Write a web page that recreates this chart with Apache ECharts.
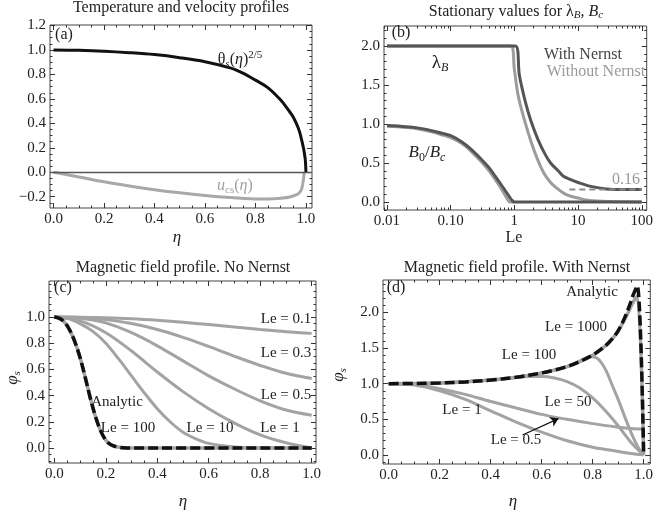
<!DOCTYPE html>
<html>
<head>
<meta charset="utf-8">
<script src="https://cdn.jsdelivr.net/npm/echarts@6/dist/echarts.min.js"></script>
<style>
  html, body { margin: 0; padding: 0; background: #fff; }
  #main { width: 656px; height: 515px; }
</style>
</head>
<body>
<div id="main"></div>
<script>
// ---- (a) temperature / velocity profiles ----
const thetaEta = [0, 0.1, 0.2, 0.3, 0.4, 0.5, 0.6, 0.7, 0.75, 0.8, 0.85, 0.9, 0.93, 0.95, 0.97, 0.98, 0.99, 0.995, 0.998, 1.0];
const thetaVal = [1.0, 0.997, 0.99, 0.978, 0.962, 0.937, 0.904, 0.853, 0.81, 0.753, 0.69, 0.59, 0.51, 0.45, 0.36, 0.29, 0.2, 0.14, 0.09, 0.0];
const uEta = [0, 0.1, 0.2, 0.3, 0.4, 0.5, 0.6, 0.7, 0.8, 0.85, 0.9, 0.94, 0.97, 0.98, 0.985, 0.99, 0.993];
const uVal = [0, -0.038, -0.078, -0.112, -0.142, -0.168, -0.19, -0.207, -0.218, -0.219, -0.213, -0.2, -0.175, -0.15, -0.12, -0.06, 0];

// ---- (b) stationary values vs Le ----
const lamLeN = [0.01, 0.1, 1.04, 1.2, 1.46, 1.8, 2.35, 3, 3.7, 5, 5.9, 7.5, 10, 15.8, 28, 50, 100];
const lamN = [2, 2, 2, 1.62, 1.31, 1.05, 0.8, 0.62, 0.5, 0.39, 0.33, 0.29, 0.25, 0.2, 0.167, 0.16, 0.16];
const lamLe0 = [0.01, 0.1, 0.88, 1.0, 1.15, 1.5, 1.85, 2.3, 2.9, 3.7, 4.8, 6, 7.7, 10, 12.5, 20, 30, 100];
const lam0 = [2, 2, 2, 1.7, 1.36, 1.0, 0.76, 0.55, 0.37, 0.25, 0.167, 0.11, 0.073, 0.05, 0.03, 0.012, 0.005, 0];
const bLeN = [0.01, 0.02, 0.03, 0.05, 0.07, 0.1, 0.15, 0.2, 0.3, 0.4, 0.5, 0.6, 0.7, 0.8, 0.9, 1.0, 100];
const bN = [0.98, 0.965, 0.95, 0.915, 0.885, 0.85, 0.77, 0.69, 0.55, 0.44, 0.33, 0.24, 0.16, 0.09, 0.03, 0.0, 0.0];
const bLe0 = [0.01, 0.02, 0.03, 0.05, 0.07, 0.1, 0.15, 0.2, 0.3, 0.4, 0.5, 0.6, 0.7, 0.8, 0.85, 1.0];
const b0 = [0.97, 0.955, 0.94, 0.9, 0.865, 0.825, 0.75, 0.665, 0.52, 0.4, 0.29, 0.19, 0.1, 0.02, 0, 0];
const asymLe = [7.3, 100];
const asymVal = [0.16, 0.16];
const leTicks = [0.01, 0.1, 1, 10, 100];
const leTickLabels = ['0.01', '0.10', '1', '10', '100'];

// ---- (c) magnetic field profile, no Nernst ----
const cEta = [0, 0.1, 0.2, 0.3, 0.4, 0.5, 0.6, 0.7, 0.8, 0.9, 1.0];
const cLe01 = [1, 0.999, 0.995, 0.987, 0.975, 0.96, 0.942, 0.923, 0.905, 0.888, 0.875];
const cLe03 = [1, 0.996, 0.98, 0.95, 0.905, 0.845, 0.775, 0.7, 0.63, 0.57, 0.53];
const cLe05 = [1, 0.99, 0.955, 0.88, 0.78, 0.665, 0.55, 0.45, 0.36, 0.29, 0.25];
const cLe1 = [1, 0.97, 0.88, 0.74, 0.58, 0.43, 0.3, 0.19, 0.1, 0.04, 0];
const cEta10 = [0, 0.05, 0.1, 0.15, 0.2, 0.25, 0.3, 0.35, 0.4, 0.45, 0.5, 0.55, 0.6, 0.7, 0.8, 1.0];
const cLe10 = [1, 0.99, 0.95, 0.89, 0.8, 0.68, 0.55, 0.42, 0.3, 0.2, 0.12, 0.07, 0.035, 0.008, 0, 0];
const cEtaAn = [0, 0.02, 0.04, 0.06, 0.08, 0.1, 0.12, 0.14, 0.16, 0.18, 0.2, 0.22, 0.25, 0.28, 1.0];
const cAnalytic = [1, 0.99, 0.96, 0.9, 0.81, 0.69, 0.54, 0.38, 0.24, 0.13, 0.06, 0.025, 0.005, 0, 0];
const cLe100 = [1, 0.99, 0.96, 0.9, 0.81, 0.69, 0.54, 0.38, 0.24, 0.13, 0.06, 0.025, 0.005, 0, 0];

// ---- (d) magnetic field profile, with Nernst ----
const dEtaAn = [0, 0.1, 0.2, 0.3, 0.4, 0.5, 0.6, 0.65, 0.7, 0.75, 0.8, 0.85, 0.88, 0.9, 0.92, 0.94, 0.96, 0.975, 1.0];
const dAnalytic = [1.0, 1.003, 1.01, 1.025, 1.05, 1.09, 1.15, 1.19, 1.24, 1.31, 1.4, 1.53, 1.64, 1.74, 1.88, 2.05, 2.25, 2.37, 0];
const dLe1000 = [1.0, 1.003, 1.01, 1.025, 1.05, 1.09, 1.15, 1.19, 1.24, 1.31, 1.4, 1.53, 1.64, 1.74, 1.86, 2.0, 2.15, 2.22, 0];
const dEta100 = [0, 0.2, 0.4, 0.5, 0.6, 0.7, 0.75, 0.79, 0.82, 0.85, 0.88, 0.9, 0.93, 0.955, 0.98, 1.0];
const dLe100 = [1.0, 1.01, 1.05, 1.09, 1.15, 1.24, 1.32, 1.38, 1.35, 1.2, 0.95, 0.78, 0.5, 0.28, 0.1, 0];
const dEta50 = [0, 0.2, 0.4, 0.5, 0.55, 0.6, 0.65, 0.7, 0.75, 0.8, 0.85, 0.9, 0.95, 1.0];
const dLe50 = [1.0, 1.01, 1.05, 1.085, 1.1, 1.1, 1.08, 1.03, 0.94, 0.8, 0.62, 0.41, 0.18, 0];
const dEtaLow = [0, 0.1, 0.2, 0.3, 0.4, 0.5, 0.6, 0.7, 0.8, 0.9, 0.95, 1.0];
const dLeA = [1, 0.99, 0.93, 0.85, 0.75, 0.66, 0.57, 0.5, 0.44, 0.39, 0.37, 0.36];
const dLeB = [1, 0.98, 0.9, 0.78, 0.62, 0.46, 0.32, 0.2, 0.11, 0.05, 0.02, 0];

const etaTicks = [0, 0.2, 0.4, 0.6, 0.8, 1.0];
const aYTicks = [-0.2, 0, 0.2, 0.4, 0.6, 0.8, 1.0, 1.2];
const bYTicks = [0, 0.5, 1.0, 1.5, 2.0];
const cYTicks = [0, 0.2, 0.4, 0.6, 0.8, 1.0];
const dYTicks = [0, 0.5, 1.0, 1.5, 2.0];

const FONT = '"Liberation Serif", "Times New Roman", serif';
const DARK = '#555555';
const LIGHT = '#a3a3a3';

function steps(a, b, d) {
  const out = [];
  for (let v = a; v <= b + 1e-9; v += d) out.push(Math.round(v * 1000) / 1000);
  return out;
}
function fmt1(v) { return v.toFixed(1).replace('-', '\u2212'); }

const xAxes = [], yAxes = [];
function axis(grid, pos, range, ticks, len, showLabel, fmt) {
  return {
    type: 'value', gridIndex: grid, position: pos, min: range[0], max: range[1],
    axisLine: { show: false, onZero: false }, splitLine: { show: false },
    axisTick: { show: true, inside: true, length: len, customValues: ticks, lineStyle: { color: '#333', width: 1 } },
    axisLabel: showLabel
      ? { show: true, customValues: ticks, formatter: fmt, fontFamily: FONT, fontSize: 15, color: '#222', margin: 4 }
      : { show: false }
  };
}
function frame(grid, xr, yr, xMaj, xMin, yMaj, yMin, xFmt, yFmt) {
  const xi = xAxes.length, yi = yAxes.length;
  xAxes.push(axis(grid, 'bottom', xr, xMaj, 5, true, xFmt), axis(grid, 'bottom', xr, xMin, 2.5, false),
    axis(grid, 'top', xr, xMaj, 5, false), axis(grid, 'top', xr, xMin, 2.5, false));
  yAxes.push(axis(grid, 'left', yr, yMaj, 5, true, yFmt), axis(grid, 'left', yr, yMin, 2.5, false),
    axis(grid, 'right', yr, yMaj, 5, false), axis(grid, 'right', yr, yMin, 2.5, false));
  return [xi, yi];
}

const logLe = leTicks.map(v => Math.log10(v));
const logMinor = [];
for (let e = -3; e <= 2; e++) for (let k = 2; k <= 9; k++) {
  const v = Math.log10(k * Math.pow(10, e));
  if (v > -2.047 && v < 2.078) logMinor.push(v);
}

const axA = frame(0, [-0.014, 1.024], [-0.292, 1.204], etaTicks, steps(0, 1, 0.05), aYTicks, steps(-0.25, 1.2, 0.05), fmt1, fmt1);
const axB = frame(1, [-2.047, 2.078], [-0.103, 2.256], logLe, logMinor, bYTicks, steps(-0.1, 2.2, 0.1),
  v => leTickLabels[Math.round(v) + 2], fmt1);
const axC = frame(2, [-0.0206, 1.0167], [-0.115, 1.275], etaTicks, steps(0, 1, 0.05), cYTicks, steps(-0.1, 1.25, 0.05), fmt1, fmt1);
const axD = frame(3, [-0.0223, 1.026], [-0.126, 2.453], etaTicks, steps(0, 1, 0.05), dYTicks, steps(-0.1, 2.4, 0.1), fmt1, fmt1);

function line(ax, xs, ys, color, width, extra) {
  return Object.assign({
    type: 'line', xAxisIndex: ax[0], yAxisIndex: ax[1],
    data: xs.map((x, i) => [x, ys[i]]),
    symbol: 'none', showSymbol: false, smooth: 0.35,
    lineStyle: { color: color, width: width }, silent: true, animation: false
  }, extra || {});
}
const lg = xs => xs.map(v => Math.log10(v));

const series = [
  // (a)
  line(axA, uEta, uVal, '#a8a8a8', 3, {
    markLine: { silent: true, symbol: 'none', label: { show: false }, animation: false,
      lineStyle: { color: '#555', width: 1.3, type: 'solid' }, data: [{ yAxis: 0 }] }
  }),
  line(axA, thetaEta, thetaVal, '#111', 3),
  // (b)
  line(axB, lg(bLe0), b0, '#9c9c9c', 3),
  line(axB, lg(lamLe0), lam0, '#9c9c9c', 3),
  line(axB, lg(bLeN), bN, DARK, 3),
  line(axB, lg(lamLeN), lamN, DARK, 3),
  line(axB, lg(asymLe), asymVal, '#8c8c8c', 2, { smooth: false, lineStyle: { color: '#8c8c8c', width: 2, type: [6, 4] } }),
  // (c)
  line(axC, cEta, cLe01, LIGHT, 3),
  line(axC, cEta, cLe03, LIGHT, 3),
  line(axC, cEta, cLe05, LIGHT, 3),
  line(axC, cEta, cLe1, LIGHT, 3),
  line(axC, cEta10, cLe10, LIGHT, 3),
  line(axC, cEtaAn, cLe100, LIGHT, 3.5),
  line(axC, cEtaAn, cAnalytic, '#111', 3.5, { lineStyle: { color: '#111', width: 3.5, type: [10, 4] } }),
  // (d)
  line(axD, dEtaLow, dLeA, LIGHT, 3, {
    markLine: { silent: true, symbol: ['none', 'arrow'], symbolSize: 8, label: { show: false }, animation: false,
      lineStyle: { color: '#111', width: 1.2, type: 'solid' },
      data: [[{ coord: [0.525, 0.28] }, { coord: [0.666, 0.51] }]] }
  }),
  line(axD, dEtaLow, dLeB, LIGHT, 3),
  line(axD, dEta50, dLe50, LIGHT, 3),
  line(axD, dEta100, dLe100, LIGHT, 3),
  line(axD, dEtaAn, dLe1000, LIGHT, 3.5),
  line(axD, dEtaAn, dAnalytic, '#111', 3.5, { lineStyle: { color: '#111', width: 3.5, type: [10, 4] } })
];

function txt(x, y, text, size, style, rot) {
  return {
    type: 'text', x: x, y: y, z: 100, silent: true, rotation: rot || 0,
    style: Object.assign({ text: text, font: size + 'px ' + FONT, fill: '#222', align: 'center', verticalAlign: 'middle' }, style || {})
  };
}
const R = (size, extra) => Object.assign({ fontSize: size, fontFamily: FONT, fill: '#222' }, extra || {});
const phiRich = { i: R(17, { fontStyle: 'italic' }), s: R(11, { fontStyle: 'italic', padding: [8, 0, 0, 0] }) };

const graphics = [
  // (a)
  txt(181, 8, 'Temperature and velocity profiles', 16),
  txt(64, 35, '(a)', 16),
  txt(240, 60, '{t|θ}{s|s}{t|(}{i|η}{t|)}{p|2/5}', 16, {
    rich: { t: R(16), i: R(16, { fontStyle: 'italic' }), s: R(11, { fontStyle: 'italic', padding: [8, 0, 0, 0] }), p: R(11, { padding: [0, 0, 10, 0] }) }
  }),
  txt(235, 186, '{i|u}{s|cs}{t|(}{i|η}{t|)}', 16, {
    fill: '#a0a0a0',
    rich: { t: R(16, { fill: '#a0a0a0' }), i: R(16, { fontStyle: 'italic', fill: '#a0a0a0' }), s: R(11, { fill: '#a0a0a0', padding: [8, 0, 0, 0] }) }
  }),
  txt(177, 238, 'η', 17, { font: 'italic 17px ' + FONT }),
  // (b)
  txt(516, 12, '{t|Stationary values for λ}{s|B}{t|, }{i|B}{s|c}', 16, {
    rich: { t: R(16), i: R(16, { fontStyle: 'italic' }), s: R(11, { fontStyle: 'italic', padding: [7, 0, 0, 0] }) }
  }),
  txt(401, 33, '(b)', 16),
  txt(440, 63, '{t|λ}{s|B}', 18, {
    rich: { t: R(19), s: R(12, { fontStyle: 'italic', padding: [9, 0, 0, 0] }) }
  }),
  txt(427, 153, '{i|B}{s|0}{t|/}{i|B}{c|c}', 17, {
    rich: { t: R(17), i: R(17, { fontStyle: 'italic' }), s: R(12, { padding: [9, 0, 0, 0] }), c: R(12, { fontStyle: 'italic', padding: [9, 0, 0, 0] }) }
  }),
  txt(583, 55, 'With Nernst', 16, { fill: '#444' }),
  txt(596, 72, 'Without Nernst', 16, { fill: '#9a9a9a' }),
  txt(626, 180, '0.16', 16, { fill: '#9a9a9a' }),
  txt(514, 238, 'Le', 16),
  // (c)
  txt(183, 268, 'Magnetic field profile. No Nernst', 16),
  txt(63, 288, '(c)', 16),
  txt(286, 319, 'Le = 0.1', 15),
  txt(286, 353, 'Le = 0.3', 15),
  txt(286, 395, 'Le = 0.5', 15),
  txt(280, 428, 'Le = 1', 15),
  txt(210, 428, 'Le = 10', 15),
  txt(128, 428, 'Le = 100', 15),
  txt(117, 402, 'Analytic', 15),
  txt(183, 502, 'η', 17, { font: 'italic 17px ' + FONT }),
  txt(13, 378, '{i|φ}{s|s}', 17, { rich: phiRich }, Math.PI / 2),
  // (d)
  txt(517, 268, 'Magnetic field profile. With Nernst', 16),
  txt(396, 288, '(d)', 16),
  txt(592, 292, 'Analytic', 15),
  txt(576, 327, 'Le = 1000', 15),
  txt(529, 355, 'Le = 100', 15),
  txt(568, 402, 'Le = 50', 15),
  txt(462, 410, 'Le = 1', 15),
  txt(516, 440, 'Le = 0.5', 15),
  txt(513, 502, 'η', 17, { font: 'italic 17px ' + FONT }),
  txt(339, 375, '{i|φ}{s|s}', 17, { rich: phiRich }, Math.PI / 2)
];

const chart = echarts.init(document.getElementById('main'));
chart.setOption({
  backgroundColor: '#fff',
  animation: false,
  grid: [
    { left: 50, top: 25, width: 262, height: 183, show: true, borderColor: '#444', borderWidth: 1 },
    { left: 384, top: 26, width: 265, height: 184, show: true, borderColor: '#444', borderWidth: 1 },
    { left: 49, top: 281, width: 267, height: 182, show: true, borderColor: '#444', borderWidth: 1 },
    { left: 383, top: 280, width: 268, height: 184, show: true, borderColor: '#444', borderWidth: 1 }
  ],
  xAxis: xAxes,
  yAxis: yAxes,
  series: series,
  graphic: graphics
});
</script>
</body>
</html>
